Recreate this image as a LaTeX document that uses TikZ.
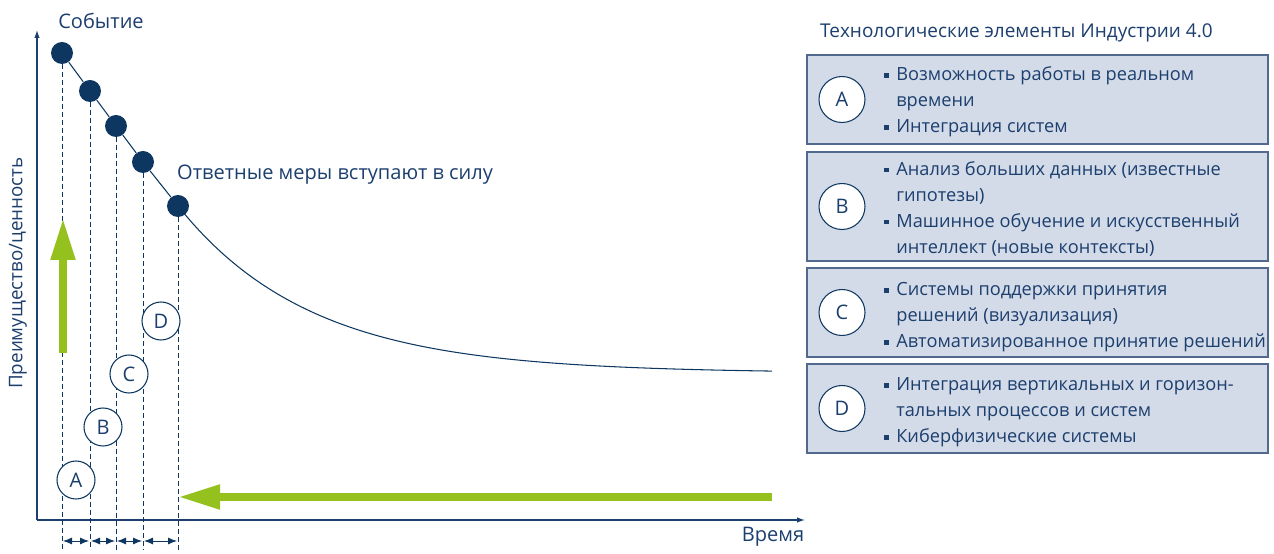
\documentclass[tikz,border=0pt]{standalone}
\usepackage{fontspec}
\setmainfont{Open Sans}
\usepackage{xcolor}
\usetikzlibrary{arrows.meta}
\definecolor{dunkelblau}{RGB}{13,55,97}
\definecolor{textblau}{RGB}{28,63,110}
\definecolor{rahmenblau}{RGB}{80,105,140}
\definecolor{hellblau}{RGB}{212,219,232}
\definecolor{gruen}{RGB}{149,193,31}
% Aufzaehlungspunkt
\newcommand{\pkt}{\raisebox{0.3ex}{\rule{0.95mm}{0.95mm}}}

\begin{document}
\begin{tikzpicture}[x=0.2mm, y=-0.2mm, font=\fontsize{11.4}{14.8}\selectfont,
    every node/.append style={text=textblau},
    punkt/.style={circle, fill=dunkelblau, minimum size=4.4mm, inner sep=0},
    marke/.style={circle, draw=dunkelblau, fill=white, minimum size=7.6mm, inner sep=0, line width=0.6pt},
    kreis/.style={marke, minimum size=9.2mm},
    kasten/.style={draw=rahmenblau, fill=hellblau, minimum width=92.2mm, inner sep=0, line width=0.6pt},
    liste/.style={anchor=west, inner sep=0, font=\fontsize{10.35}{14.8}\selectfont},
    linie/.style={dunkelblau, line width=0.6pt},
    gestrichelt/.style={dunkelblau, dash pattern=on 1mm off 0.6mm, line width=0.5pt},
    achse/.style={textblau, line width=0.7pt, -{Latex[length=1.6mm,width=1.1mm]}},
    masspfeil/.style={dunkelblau, line width=0.5pt, shorten <=0.2mm, shorten >=0.2mm,
        {Latex[length=1.8mm,width=1.4mm]}-{Latex[length=1.8mm,width=1.4mm]}},
    gruenpfeil/.style={gruen, line width=1.6mm, -{Triangle[length=8.4mm,width=4.6mm]}}]
    \useasboundingbox (0,0) rectangle (1274,554);

    % Achsen
    \coordinate (ursprung) at (37,520);
    \coordinate (yende) at (37,30);
    \coordinate (xende) at (805,520);
    \draw[achse] (ursprung) -- (yende);
    \draw[achse] (ursprung) -- (xende);

    % Ereignispunkte und Kurve
    \node[punkt] (p1) at (62,53) {};
    \node[punkt] (p2) at (90,91) {};
    \node[punkt] (p3) at (116,126) {};
    \node[punkt] (p4) at (143,162) {};
    \node[punkt] (p5) at (178,206) {};
    \draw[linie] (p1) -- (p2) -- (p3) -- (p4) -- (p5);
    \draw[linie] plot[domain=178:772, samples=80] (\x,{373-167*exp(-(\x-178)/133)});

    % Hilfslinien
    \coordinate (unten) at (0,550);
    \foreach \p in {p1,p2,p3,p4,p5}
        \draw[gestrichelt] (\p.south) -- (\p |- unten);

    % Abstaende
    \coordinate (mass) at (0,541);
    \foreach \a/\b in {p1/p2,p2/p3,p3/p4,p4/p5}
        \draw[masspfeil] (\a |- mass) -- (\b |- mass);

    % Marken
    \node[marke] (mA) at (76,480) {A};
    \node[marke] (mB) at (103,427) {B};
    \node[marke] (mC) at (129,374) {C};
    \node[marke] (mD) at (161,321) {D};

    % Gruene Pfeile
    \coordinate (hochStart) at (63,353);
    \coordinate (hochEnde) at (63,218);
    \draw[gruenpfeil] (hochStart) -- (hochEnde);
    \coordinate (linksStart) at (772,497);
    \draw[gruenpfeil] (linksStart) -- (p5 |- linksStart);

    % Beschriftungen
    \node (ereignis) at (101,21) {Событие};
    \node[anchor=west] (massnahmen) at (171,175) {Ответные меры вступают в силу};
    \node (zeit) at (773,537) {Время};
    \node[rotate=90, font=\fontsize{10.7}{13}\selectfont] (nutzen) at (18,273) {Преимущество/ценность};

    % Kaesten
    \node[anchor=west, font=\fontsize{10.8}{13}\selectfont] (titel) at (814,33) {Технологические элементы Индустрии 4.0};

    \node[kasten, minimum height=17.8mm] (kA) at (1037.5,99.5) {};
    \node[kreis] (kreisA) at (842,99.5) {A};
    \node[liste] (listeA) at (884,101.5) {\begin{tabular}{@{}p{2.4mm}@{}l@{}}
        \pkt & Возможность работы в реальном \\ & времени \\ \pkt & Интеграция систем \end{tabular}};

    \node[kasten, minimum height=21.8mm] (kB) at (1037.5,206.5) {};
    \node[kreis] (kreisB) at (842,206.5) {B};
    \node[liste] (listeB) at (884,209) {\begin{tabular}{@{}p{2.4mm}@{}l@{}}
        \pkt & Анализ больших данных (известные \\ & гипотезы) \\
        \pkt & Машинное обучение и искусственный \\ & интеллект (новые контексты) \end{tabular}};

    \node[kasten, minimum height=17.8mm] (kC) at (1037.5,312.5) {};
    \node[kreis] (kreisC) at (842,312.5) {C};
    \node[liste] (listeC) at (884,316.5) {\begin{tabular}{@{}p{2.4mm}@{}l@{}}
        \pkt & Системы поддержки принятия \\ & решений (визуализация) \\ \pkt & Автоматизированное принятие решений \end{tabular}};

    \node[kasten, minimum height=17.8mm] (kD) at (1037.5,408.5) {};
    \node[kreis] (kreisD) at (842,408.5) {D};
    \node[liste] (listeD) at (884,411.5) {\begin{tabular}{@{}p{2.4mm}@{}l@{}}
        \pkt & Интеграция вертикальных и горизон- \\ & тальных процессов и систем \\ \pkt & Киберфизические системы \end{tabular}};
\end{tikzpicture}
\end{document}
